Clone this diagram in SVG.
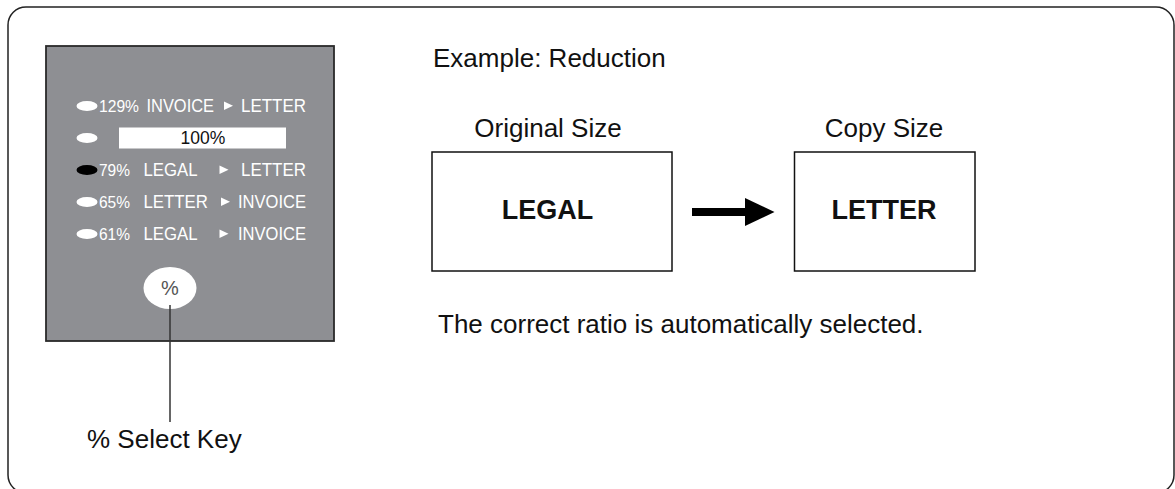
<svg xmlns="http://www.w3.org/2000/svg" width="1175" height="489" viewBox="0 0 1175 489">
<style>
.t{font-family:"Liberation Sans",Arial,sans-serif;fill:#111}
.big{font-size:26px}
.bold{font-size:27px;font-weight:bold}
.pw{font-family:"Liberation Sans",Arial,sans-serif;fill:#fff;font-size:18.5px}
.pp{font-family:"Liberation Sans",Arial,sans-serif;fill:#fff;font-size:16px}
.led{fill:#fff}
.box{fill:#fff;stroke:#111;stroke-width:1.5}
</style>
<rect x="8" y="7" width="1166" height="486" rx="18" fill="#fff" stroke="#222" stroke-width="1.5"/>
<g id="panel">
<rect x="46" y="46" width="288" height="295" fill="#8e8f93" stroke="#2a2a2a" stroke-width="1.8"/>
<ellipse class="led" cx="87" cy="106" rx="10.5" ry="5"/>
<text class="pp" x="99" y="112" textLength="40" lengthAdjust="spacingAndGlyphs">129%</text>
<text class="pw" x="146.5" y="112" textLength="67.5" lengthAdjust="spacingAndGlyphs">INVOICE</text>
<polygon class="led" points="224,101.5 233,105.8 224,110"/>
<text class="pw" x="241" y="112" textLength="65" lengthAdjust="spacingAndGlyphs">LETTER</text>
<ellipse class="led" cx="87" cy="138" rx="10.5" ry="5"/>
<rect x="119" y="127.5" width="167" height="21" fill="#fff"/>
<text class="t" x="203" y="144" font-size="17.5" text-anchor="middle">100%</text>
<ellipse cx="87" cy="170" rx="10.5" ry="5" fill="#000"/>
<text class="pp" x="99" y="176" textLength="31" lengthAdjust="spacingAndGlyphs">79%</text>
<text class="pw" x="143.5" y="176" textLength="54" lengthAdjust="spacingAndGlyphs">LEGAL</text>
<polygon class="led" points="219.5,165.5 228.5,169.8 219.5,174"/>
<text class="pw" x="241" y="176" textLength="65" lengthAdjust="spacingAndGlyphs">LETTER</text>
<ellipse class="led" cx="87" cy="202" rx="10.5" ry="5"/>
<text class="pp" x="99" y="208" textLength="31" lengthAdjust="spacingAndGlyphs">65%</text>
<text class="pw" x="143.5" y="208" textLength="64.5" lengthAdjust="spacingAndGlyphs">LETTER</text>
<polygon class="led" points="221,197.5 230,201.8 221,206"/>
<text class="pw" x="238" y="208" textLength="68" lengthAdjust="spacingAndGlyphs">INVOICE</text>
<ellipse class="led" cx="87" cy="234" rx="10.5" ry="5"/>
<text class="pp" x="99" y="240" textLength="31" lengthAdjust="spacingAndGlyphs">61%</text>
<text class="pw" x="143.5" y="240" textLength="54" lengthAdjust="spacingAndGlyphs">LEGAL</text>
<polygon class="led" points="219.5,229.5 228.5,233.8 219.5,238"/>
<text class="pw" x="238" y="240" textLength="68" lengthAdjust="spacingAndGlyphs">INVOICE</text>
</g>
<g id="key">
<ellipse cx="170" cy="288" rx="26.5" ry="21" fill="#fff"/>
<text x="170" y="295" text-anchor="middle" font-family="Liberation Sans,Arial,sans-serif" font-size="20" fill="#555">%</text>
</g>
<g id="connectors">
<line x1="170" y1="305" x2="170" y2="422" stroke="#333" stroke-width="1.5"/>
<rect x="692" y="208" width="54" height="8" fill="#000"/>
<polygon points="745,198 774.5,212 745,226" fill="#000"/>
</g>
<g id="keylabel">
<text class="t big" x="87" y="448">% Select Key</text>
</g>
<g id="title">
<text class="t big" x="433" y="67">Example: Reduction</text>
</g>
<g id="original">
<text class="t big" x="548" y="137" text-anchor="middle">Original Size</text>
<rect class="box" x="432" y="152" width="240" height="119"/>
<text class="t bold" x="547.5" y="219" text-anchor="middle">LEGAL</text>
</g>
<g id="copy">
<text class="t big" x="884" y="137" text-anchor="middle">Copy Size</text>
<rect class="box" x="794.5" y="152" width="180.5" height="119"/>
<text class="t bold" x="884" y="219" text-anchor="middle">LETTER</text>
</g>
<g id="note">
<text class="t big" x="438" y="333">The correct ratio is automatically selected.</text>
</g>
</svg>
